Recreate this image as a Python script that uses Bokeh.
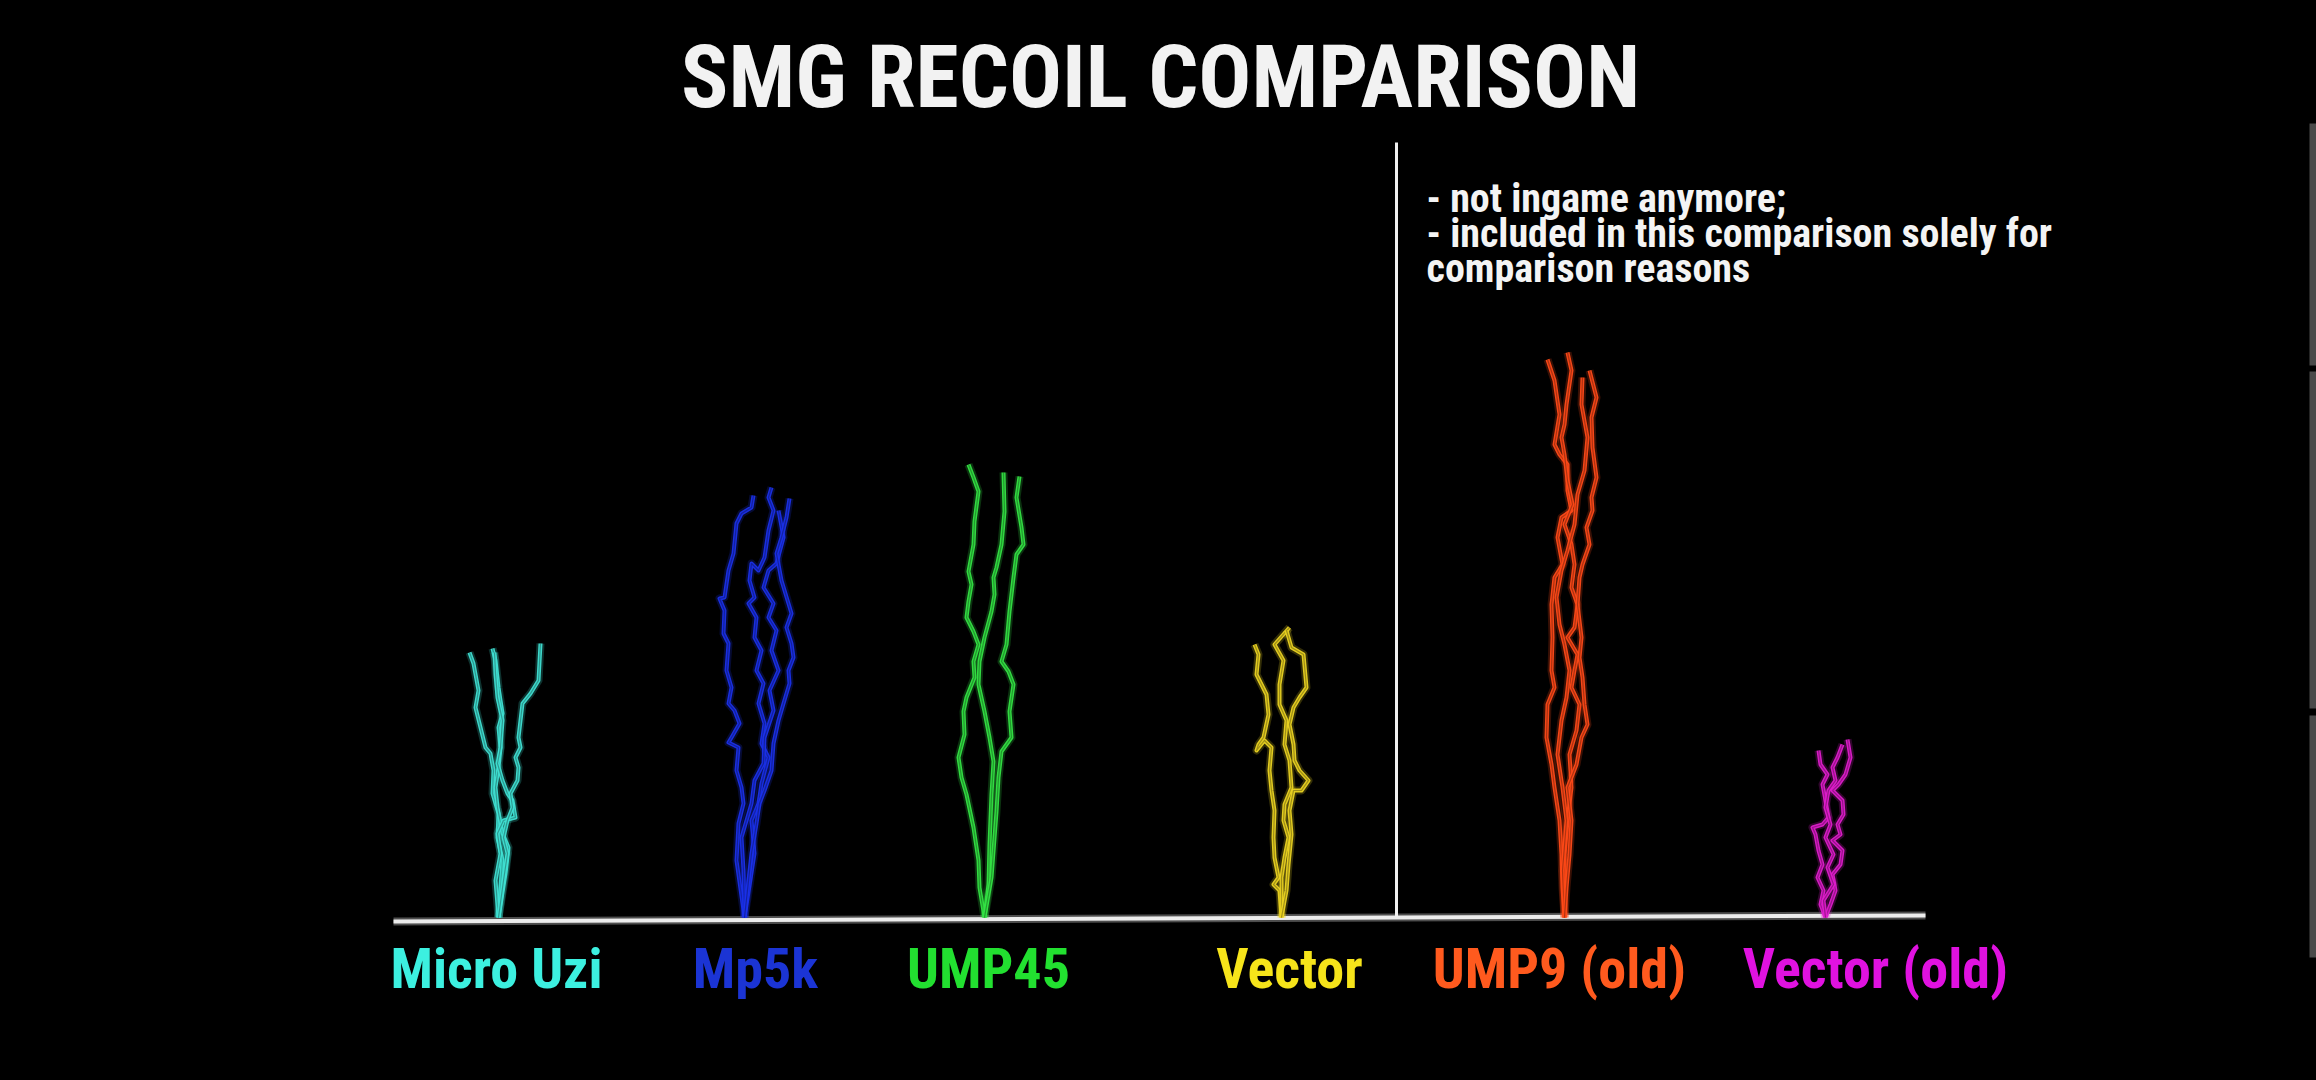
from bokeh.plotting import figure
from bokeh.models import Range1d, ColumnDataSource
from bokeh.embed import file_html
from bokeh.resources import INLINE
from bokeh.core.properties import value

# ---------------- data ----------------
TITLE = "SMG RECOIL COMPARISON"
NOTE_LINES = ["- not ingame anymore;",
              "- included in this comparison solely for",
              "comparison reasons"]
weapons = ["Micro Uzi", "Mp5k", "UMP45", "Vector", "UMP9 (old)", "Vector (old)"]
label_colors = ["#3cf0e0", "#1b34d4", "#22e030", "#f6e41a", "#ff5a1e", "#e012e0"]
trace_colors = ["#40e2d4", "#1a30ea", "#34e444", "#ecd422", "#ff4a18", "#e01ccc"]

# spray traces: horizontal offset (px) and vertical climb (px) per shot
micro_uzi_dx = [[0, 2, 4, -1, 0, -6, -5, -8, -13, -18, -23, -20, -25, -29],
                [0, 7, 10, 4, -1, -3, 0, 2, 0, 4, 0, -3, -6],
                [0, -3, 2, -1, 5, 17, 14, 9, 4, -1, 2, 4, -1, -3, -4],
                [0, 5, 9, 5, 9, 14, 12, 19, 20, 17, 22, 20, 22, 24, 32, 40, 42]]
micro_uzi_dy = [[0, 30, 57, 80, 104, 124, 147, 164, 170, 190, 210, 227, 254, 265],
                [0, 44, 70, 84, 110, 130, 150, 170, 190, 204, 230, 257, 269],
                [0, 37, 64, 84, 97, 100, 117, 124, 137, 154, 170, 197, 220, 244, 265],
                [0, 37, 64, 80, 97, 110, 124, 137, 150, 160, 170, 180, 197, 214, 224, 237, 274]]

mp5k_dx = [[0, -8, -6, -1, -3, -8, -6, -16, -13, -5, -10, -16, -13, -18, -16, -21, -20, -25, -20, -16, -11, -8, -3, 7, 9],
           [0, 10, 7, 14, 17, 24, 17, 20, 14, 19, 12, 17, 10, 12, 4, 10, 5, 7, 14, 20, 24, 29, 24, 27],
           [0, -1, -3, 7, 10, 19, 20, 29, 25, 34, 27, 32, 24, 29, 19, 24, 32, 39, 34],
           [0, 7, 12, 15, 20, 27, 29, 34, 39, 45, 44, 49, 47, 42, 47, 44, 37, 32, 37, 42, 45]]
mp5k_dy = [[0, 57, 94, 114, 130, 147, 170, 175, 180, 194, 207, 214, 230, 247, 274, 284, 307, 319, 320, 347, 364, 394, 404, 410, 422],
           [0, 64, 97, 114, 134, 160, 174, 194, 214, 234, 247, 267, 280, 300, 314, 320, 337, 354, 347, 360, 387, 407, 420, 430],
           [0, 47, 80, 114, 137, 154, 180, 207, 227, 247, 267, 287, 300, 314, 330, 347, 354, 380, 407],
           [0, 64, 94, 114, 127, 147, 174, 197, 214, 234, 247, 260, 274, 290, 304, 314, 337, 364, 380, 400, 419]]

ump45_dx = [[0, -5, -6, -11, -18, -23, -26, -20, -21, -18, -10, -11, -6, -11, -18, -16, -13, -16, -11, -10, -6, -11, -16],
            [0, 4, 5, 7, 9, 5, 0, -6, -5, 0, 7, 10, 9, 12, 17, 20, 19],
            [0, 7, 12, 14, 17, 27, 25, 29, 24, 17, 22, 25, 29, 32, 39, 37, 32, 35]]
ump45_dy = [[0, 30, 57, 90, 123, 140, 160, 183, 206, 220, 240, 256, 273, 286, 300, 316, 333, 346, 373, 396, 426, 440, 453],
            [0, 33, 73, 123, 156, 180, 206, 233, 256, 280, 306, 323, 340, 350, 373, 406, 445],
            [0, 40, 106, 140, 166, 180, 206, 233, 246, 256, 273, 306, 340, 363, 373, 390, 420, 441]]

vector_dx = [[0, -2, -8, -3, -7, -8, -7, -10, -12, -10, -17, -25, -23, -18, -13, -15, -25, -23, -27],
             [0, 0, 3, 7, 2, 3, 10, 8, 3, 5, -2, -2, 2, -7, 8],
             [0, 5, 7, 10, 8, 12, 20, 27, 18, 13, 12, 8, 12, 18, 25, 22, 10, 5]]
vector_dy = [[0, 27, 33, 40, 60, 80, 107, 127, 147, 170, 177, 167, 173, 180, 203, 223, 243, 263, 273],
             [0, 40, 60, 80, 97, 113, 130, 157, 173, 197, 213, 233, 257, 273, 290],
             [0, 27, 53, 83, 107, 127, 127, 137, 147, 157, 173, 193, 210, 220, 230, 263, 270, 287]]

ump9_dx = [[0, -2, -3, -5, -10, -13, -18, -17, -10, -13, -12, -13, -10, -2, -7, -3, 7, 3, 3, -5, -10, -5, -10, -17],
           [0, 0, 3, 7, 5, 12, 15, 7, 10, 13, 3, 10, 13, 7, 10, 7, 0, 8, 3, 0, -3, 0, 2, 7, 3],
           [0, -2, 2, -2, -7, -3, 2, 5, 0, -5, -8, -3, 3, 10, 13, 20, 23, 17, 18],
           [0, 2, 5, 7, 3, 12, 17, 23, 20, 18, 15, 17, 13, 15, 18, 25, 22, 28, 27, 32, 28, 27, 32, 25]]
ump9_dy = [[0, 30, 63, 97, 130, 153, 180, 213, 230, 247, 280, 313, 340, 353, 380, 400, 407, 427, 453, 463, 473, 503, 537, 558],
           [0, 63, 97, 130, 163, 187, 213, 230, 247, 263, 280, 290, 313, 330, 353, 373, 393, 413, 437, 463, 480, 493, 513, 547, 565],
           [0, 47, 97, 130, 163, 197, 220, 247, 273, 293, 320, 347, 367, 393, 423, 447, 480, 513, 540],
           [0, 30, 63, 97, 130, 153, 180, 193, 213, 240, 260, 280, 313, 340, 353, 373, 390, 407, 420, 440, 470, 500, 520, 547]]

vector_old_dx = [[0, -5, -2, -8, -3, -7, -10, -13, -3, 3, 0, -3, 2, -5, -7],
                 [0, 5, 10, 7, 15, 17, 7, 15, 12, 18, 17, 7, 13, 20, 25, 22],
                 [0, -2, 8, 2, 8, 0, 5, 0, 3, 10, 7, 12, 17]]
vector_old_dy = [[0, 13, 27, 40, 53, 67, 83, 90, 93, 100, 117, 133, 143, 153, 167],
                 [0, 13, 27, 43, 53, 67, 77, 83, 93, 103, 117, 127, 133, 143, 160, 178],
                 [0, 17, 33, 50, 63, 80, 93, 110, 127, 137, 150, 160, 173]]

# ---------------- layout ----------------
FONT = "Noto Sans ExtraCondensed, Roboto Condensed, DejaVu Sans Condensed, sans-serif"
spray_x = [498, 744, 984, 1281, 1564, 1825]
label_x = [496, 755, 988, 1289, 1559, 1875]

p = figure(width=2316, height=1080,
           x_range=Range1d(0, 2316), y_range=Range1d(-163, 917),
           output_backend="svg", toolbar_location=None,
           x_axis_location=None, y_axis_location=None,
           min_border=0, background_fill_color="black",
           border_fill_color="black", outline_line_color=None)
p.grid.visible = False

# title
p.text(x=[1160], y=[841], text=[TITLE], text_font=value(FONT),
       text_font_size=value("88px"), text_font_style="bold",
       text_color="#f2f2f2", text_align="center", text_baseline="alphabetic")

# note
p.text(x=[1426] * 3, y=[719, 684, 649], text=NOTE_LINES, text_font=value(FONT),
       text_font_size=value("40px"), text_font_style="bold",
       text_color="#f4f4f4", text_align="left", text_baseline="alphabetic")

# baseline and divider
p.line(x=[393, 1925], y=[-4, 2], line_color="#9a9a9a", line_width=8, line_alpha=0.5)
p.line(x=[393, 1925], y=[-4, 2], line_color="#ececec", line_width=4)
p.line(x=[1396, 1396], y=[0, 775], line_color="#f0f0f0", line_width=3)

# sprays
all_dx = [micro_uzi_dx, mp5k_dx, ump45_dx, vector_dx, ump9_dx, vector_old_dx]
all_dy = [micro_uzi_dy, mp5k_dy, ump45_dy, vector_dy, ump9_dy, vector_old_dy]
for i in range(len(weapons)):
    for dxs, dys in zip(all_dx[i], all_dy[i]):
        xs = [spray_x[i] + d for d in dxs]
        p.line(x=xs, y=dys, line_color=trace_colors[i], line_width=8, line_alpha=0.22,
               line_join="round")
        p.line(x=xs, y=dys, line_color=trace_colors[i], line_width=4, line_alpha=0.95,
               line_join="round")
        p.line(x=xs, y=dys, line_color="black", line_width=1.2, line_alpha=0.3,
               line_join="round")

# labels
lab = ColumnDataSource(dict(x=label_x, y=[-51] * len(weapons), t=weapons, c=label_colors))
p.text(x="x", y="y", text="t", text_color="c", source=lab, text_font=value(FONT),
       text_font_size=value("56px"), text_font_style="bold",
       text_align="center", text_baseline="alphabetic")

# right-edge scroll markers
p.quad(left=[2309, 2309, 2309], right=[2316, 2316, 2316],
       top=[794, 546, 202], bottom=[552, 209, -40],
       fill_color="#4a4a4a", line_color=None)

html = file_html(p, INLINE)
html = html.replace("<head>", "<head>\n<style>html,body{background:#000;}</style>", 1)
open("out.html", "w").write(html)
